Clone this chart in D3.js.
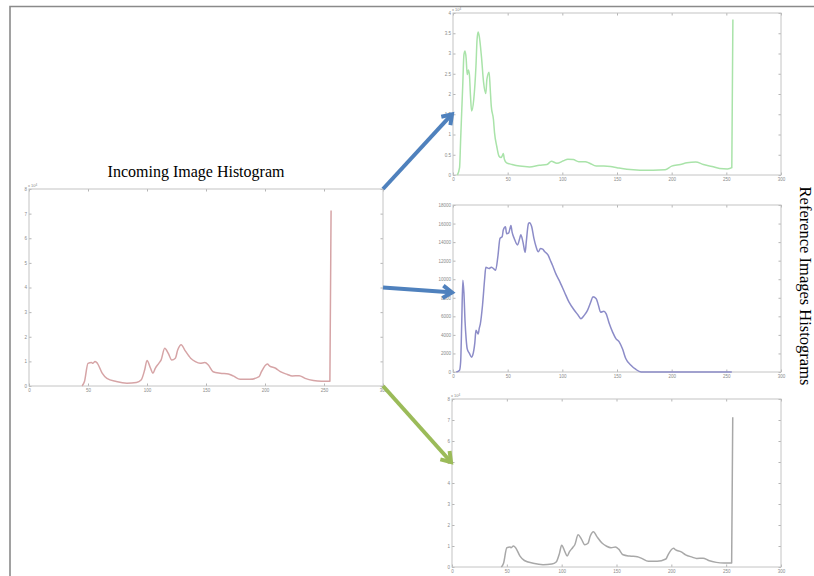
<!DOCTYPE html>
<html>
<head>
<meta charset="utf-8">
<script src="https://cdn.jsdelivr.net/npm/d3@7"></script>
<style>
	body { margin: 0; background: #fff; }
</style>
</head>
<body>
<script>
// incoming image histogram (the third reference image has the same one)
var incomingBins = [45, 47, 50, 53, 54, 56, 58, 62, 66, 74, 83, 91, 95, 98, 100, 103, 105, 107, 110, 112,
	115, 118, 121, 124, 126, 129, 132, 137, 141, 145, 149, 152, 156, 162, 169, 173, 179, 187, 195, 197,
	202, 204, 209, 213, 219, 223, 229, 234, 241, 248, 255, 256];
var incomingCounts = [0, 1800, 9200, 9500, 9200, 10000, 9200, 5200, 3100, 1800, 1100, 1400, 2400, 6500, 10400, 7200, 5200, 7200, 9200, 10600,
	15300, 13300, 10600, 11300, 14600, 16800, 14600, 11300, 9900, 9200, 9500, 8500, 5800, 5200, 4900, 4100, 2700, 2700, 3800, 5800,
	8900, 8100, 7200, 5800, 4700, 4100, 4200, 3100, 2200, 1900, 1900, 71300];

// reference image 1 (green)
var ref1Bins = [4, 6, 7, 9, 10, 11, 12, 13, 14, 15, 16, 17, 19, 21, 22, 23, 24, 26, 28, 30,
	31, 33, 34, 35, 37, 38, 40, 42, 44, 45, 46, 47, 49, 54, 61, 70, 79, 86, 90, 95,
	101, 105, 110, 115, 121, 125, 131, 138, 144, 150, 159, 171, 183, 194, 200, 208, 214, 222, 229, 237,
	244, 251, 255, 256];
var ref1Counts = [0, 1800, 8800, 22800, 29700, 30600, 28900, 24800, 25900, 24800, 19500, 15800, 18700, 26900, 33400, 35300, 34300, 29300, 22800, 20100,
	23600, 25400, 21500, 17000, 13700, 10400, 7100, 4700, 4300, 4700, 5300, 3900, 3000, 2600, 2200, 2000, 2400, 2600, 3400, 2900,
	3500, 3900, 3800, 3300, 3300, 2900, 2200, 2200, 2100, 1800, 1400, 1200, 1200, 1300, 2200, 2600, 3000, 3200, 2600, 2100,
	1600, 1500, 1800, 38400];

// reference image 2 (blue)
var ref2Bins = [3, 6, 7, 8, 9, 10, 11, 12, 13, 15, 17, 18, 20, 21, 23, 24, 25, 27, 29, 30,
	33, 35, 37, 39, 41, 43, 45, 46, 48, 49, 51, 53, 54, 56, 59, 61, 62, 64, 66, 67,
	69, 70, 72, 74, 76, 78, 80, 82, 84, 87, 89, 91, 94, 97, 102, 106, 111, 114, 117, 120,
	123, 126, 128, 131, 133, 135, 138, 140, 143, 146, 149, 152, 155, 158, 163, 167, 172, 255];
var ref2Counts = [0, 200, 1100, 5400, 9900, 8500, 5500, 3600, 2500, 2000, 1600, 1800, 3200, 4500, 4100, 4700, 5200, 7200, 10100, 11300,
	11150, 11300, 11150, 10970, 12400, 14400, 14600, 15300, 15650, 14900, 15000, 15800, 15100, 14400, 13700, 14400, 14800, 14000, 12900, 14000,
	16000, 16100, 15650, 14400, 13500, 12950, 13300, 13240, 12950, 12600, 12050, 11500, 10600, 9900, 8600, 7550, 6650, 6200, 5750, 6100,
	6650, 7550, 8100, 7900, 7200, 6450, 6550, 6300, 5200, 4300, 3600, 3250, 2500, 1450, 700, 300, 0, 0];

var xTicks = [0, 50, 100, 150, 200, 250, 300];
var yTicksBig = [0, 10000, 20000, 30000, 40000, 50000, 60000, 70000, 80000];
var yTicksRef1 = [0, 5000, 10000, 15000, 20000, 25000, 30000, 35000, 40000];
var yTicksRef2 = [0, 2000, 4000, 6000, 8000, 10000, 12000, 14000, 16000, 18000];

var titleText = "Incoming Image Histogram";
var sideText = "Reference Images Histograms";

var width = 814, height = 576;

var svg = d3.select("body").append("svg")
	.attr("width", width)
	.attr("height", height)
	.style("display", "block");

// page frame
svg.append("path")
	.attr("d", "M10,576 L10,6.5 L814,6.5")
	.style("fill", "none")
	.style("stroke", "#8a8a8a")
	.style("stroke-width", 1.6);

function zip(bins, counts) {
	return bins.map(function(b, i) { return {bin: b, count: counts[i]}; });
}

function drawChart(box, data, yTicks, yMax, color, exponent) {
	var g = svg.append("g")
		.attr("transform", "translate(" + box.x + "," + box.y + ")");

	var x = d3.scaleLinear().domain([0, 300]).range([0, box.w]);
	var y = d3.scaleLinear().domain([0, yMax]).range([box.h, 0]);

	var fmt = exponent ? function(d) { return d / 10000; } : function(d) { return d; };

	g.append("g")
		.call(d3.axisLeft(y).tickValues(yTicks).tickSizeInner(-2.5).tickSizeOuter(0).tickPadding(2).tickFormat(fmt));
	g.append("g")
		.attr("transform", "translate(0," + box.h + ")")
		.call(d3.axisBottom(x).tickValues(xTicks).tickSizeInner(-2.5).tickSizeOuter(0).tickPadding(3));
	g.append("g")
		.attr("transform", "translate(" + box.w + ",0)")
		.call(d3.axisRight(y).tickValues(yTicks).tickSizeInner(-2.5).tickSizeOuter(0).tickFormat(""));
	g.append("g")
		.call(d3.axisTop(x).tickValues(xTicks).tickSizeInner(-2.5).tickSizeOuter(0).tickFormat(""));

	g.selectAll(".domain").remove();
	g.selectAll(".tick line").style("stroke", "#b5b5b5");
	g.selectAll(".tick text")
		.style("font-family", "Liberation Sans, Arial, sans-serif")
		.style("font-size", "4.5px")
		.style("fill", "#8a8a8a");

	g.append("rect")
		.attr("width", box.w)
		.attr("height", box.h)
		.style("fill", "none")
		.style("stroke", "#c4c4c4")
		.style("stroke-width", 1);

	if (exponent) {
		var t = g.append("text")
			.attr("x", -1)
			.attr("y", -2)
			.style("font-family", "Liberation Sans, Arial, sans-serif")
			.style("font-size", "4px")
			.style("fill", "#8a8a8a");
		t.append("tspan").text("x 10");
		t.append("tspan").attr("dy", -1.5).style("font-size", "3px").text("4");
	}

	var line = d3.line()
		.x(function(d) { return x(d.bin); })
		.y(function(d) { return y(d.count); })
		.curve(d3.curveMonotoneX);

	g.append("path")
		.datum(data)
		.attr("d", line)
		.style("fill", "none")
		.style("stroke", color)
		.style("stroke-width", 1.5)
		.style("stroke-linejoin", "round");

	return {x: x, y: y, box: box};
}

var main = drawChart({x: 29, y: 189, w: 354, h: 197}, zip(incomingBins, incomingCounts), yTicksBig, 80000, "#d6a4a6", true);
var top1 = drawChart({x: 453, y: 13, w: 328, h: 162}, zip(ref1Bins, ref1Counts), yTicksRef1, 40000, "#a9e3a9", true);
var mid2 = drawChart({x: 453, y: 205, w: 328, h: 167}, zip(ref2Bins, ref2Counts), yTicksRef2, 18000, "#8c8cc8", false);
var bot3 = drawChart({x: 452, y: 399, w: 329, h: 168}, zip(incomingBins, incomingCounts), yTicksBig, 80000, "#a8a8a8", true);

// title over the incoming histogram
svg.append("text")
	.attr("x", 196)
	.attr("y", 177)
	.attr("text-anchor", "middle")
	.style("font-family", "Liberation Serif, Times New Roman, serif")
	.style("font-size", "16px")
	.style("fill", "#000")
	.text(titleText);

svg.append("text")
	.attr("transform", "translate(800,286) rotate(90)")
	.attr("text-anchor", "middle")
	.style("font-family", "Liberation Serif, Times New Roman, serif")
	.style("font-size", "16.5px")
	.style("fill", "#000")
	.text(sideText);

// arrows from the incoming histogram to each reference
function arrow(x1, y1, x2, y2, color) {
	var ang = Math.atan2(y2 - y1, x2 - x1);
	var len = 11, spread = 0.6;
	var a1 = [x2 - len * Math.cos(ang - spread), y2 - len * Math.sin(ang - spread)];
	var a2 = [x2 - len * Math.cos(ang + spread), y2 - len * Math.sin(ang + spread)];
	svg.append("path")
		.attr("d", "M" + x1 + "," + y1 + " L" + (x2 - 2 * Math.cos(ang)) + "," + (y2 - 2 * Math.sin(ang)))
		.style("stroke", color)
		.style("stroke-width", 4)
		.style("fill", "none");
	svg.append("path")
		.attr("d", "M" + a1[0] + "," + a1[1] + " L" + x2 + "," + y2 + " L" + a2[0] + "," + a2[1])
		.style("stroke", color)
		.style("stroke-width", 4)
		.style("stroke-linejoin", "miter")
		.style("fill", "none");
}

var mx = main.box.x + main.box.w;
arrow(mx, main.box.y, top1.box.x - 1, top1.y(15000) + top1.box.y, "#4f81bd");
arrow(mx, main.box.y + main.box.h / 2, mid2.box.x - 1, mid2.box.y + mid2.box.h / 2 + 4, "#4f81bd");
arrow(mx, main.box.y + main.box.h, bot3.box.x - 1, bot3.y(50000) + bot3.box.y, "#9bbb59");
</script>
</body>
</html>
